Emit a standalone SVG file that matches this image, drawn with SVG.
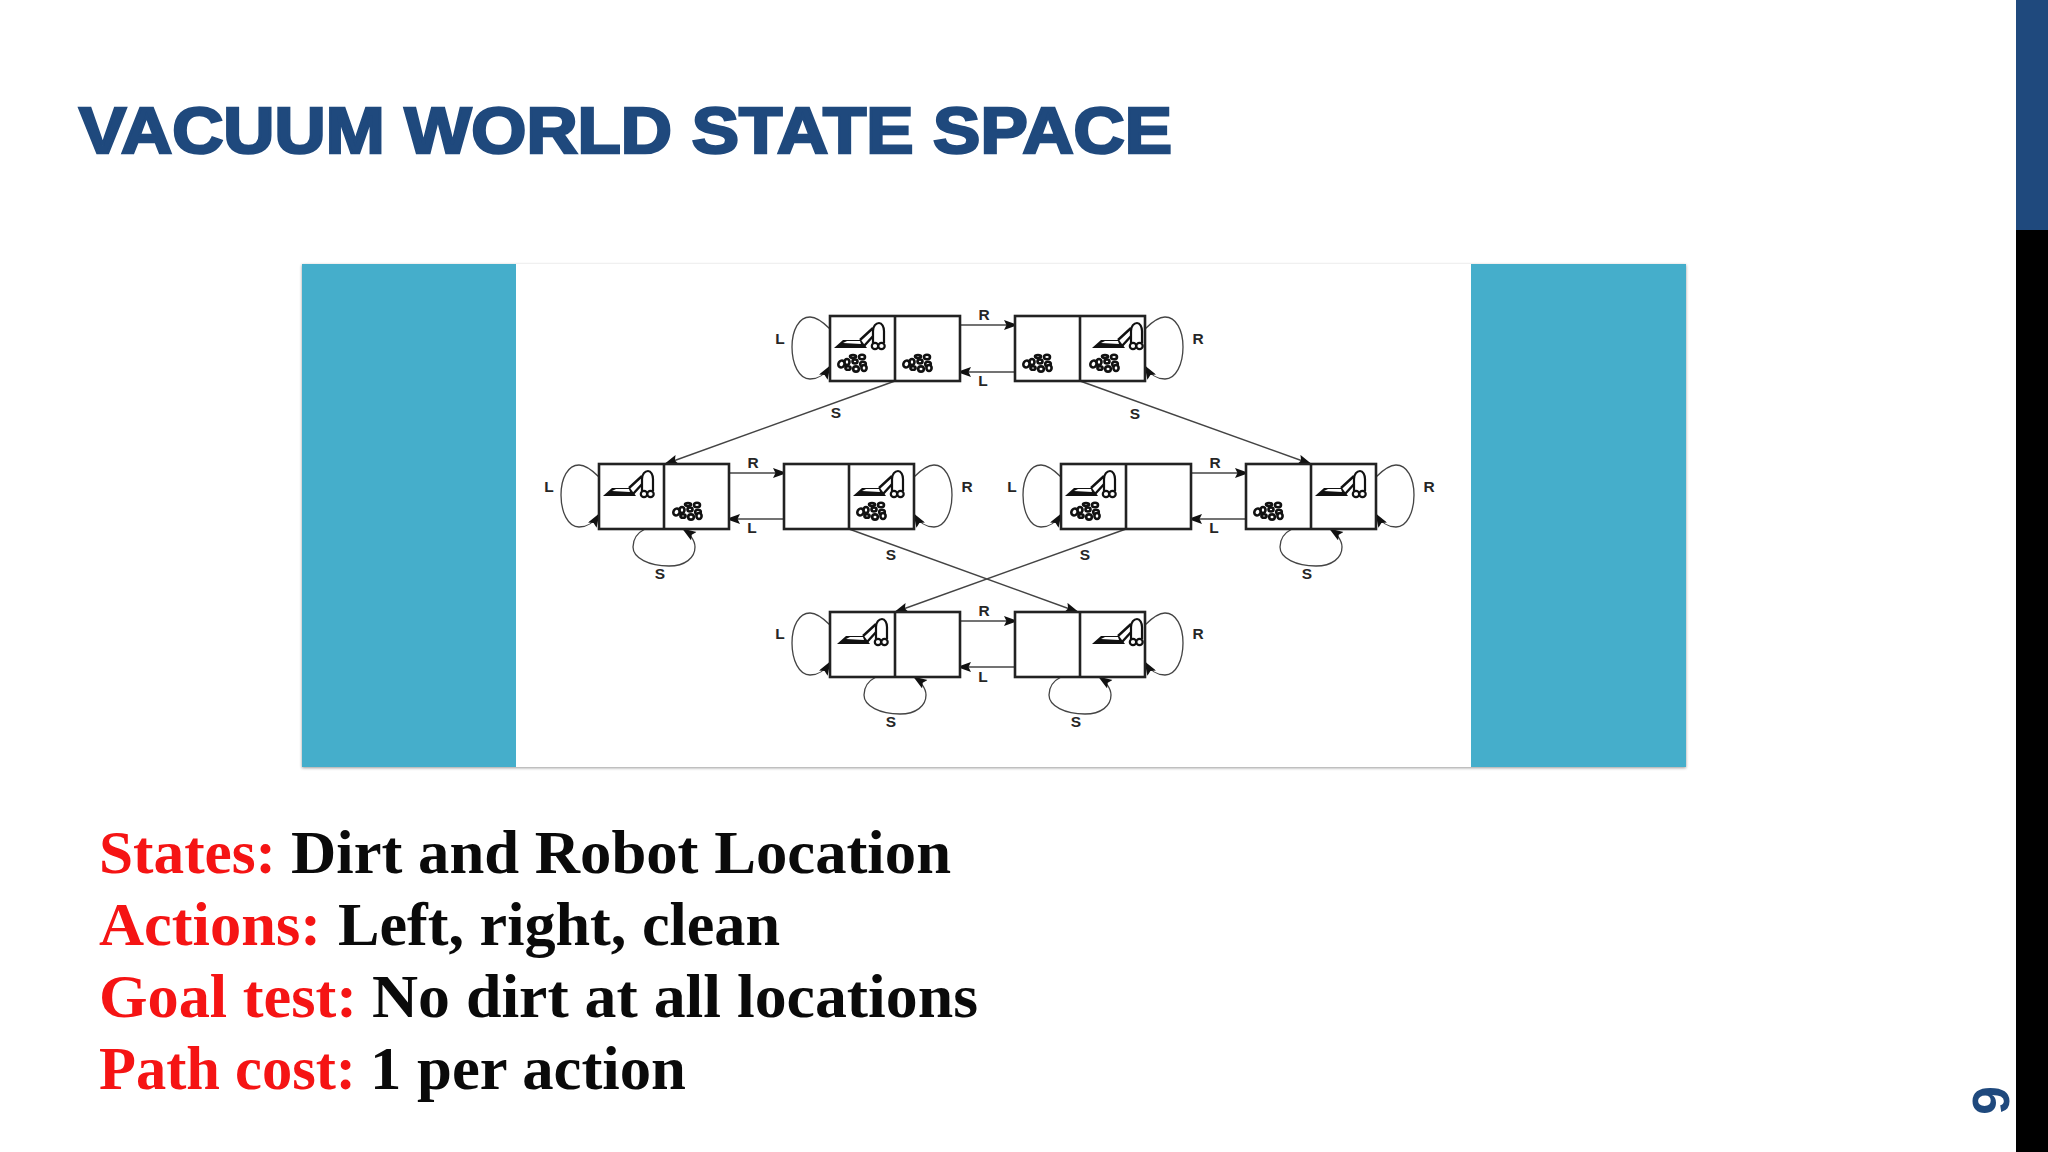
<svg xmlns="http://www.w3.org/2000/svg" width="2048" height="1152" viewBox="0 0 2048 1152">
<style>
.title{font-family:"Liberation Sans",Arial,sans-serif;font-weight:700;font-size:65px;fill:#1f497d;stroke:#1f497d;stroke-width:2.6px}
.body{font-family:"Liberation Serif","Times New Roman",serif;font-weight:700;font-size:61px}
.red{fill:#f51414}.blk{fill:#0a0a0a}
.lb{font-family:"Liberation Sans",Arial,sans-serif;font-weight:700;font-size:15.5px;fill:#262626;text-anchor:middle;dominant-baseline:central}
.box{fill:#fff;stroke:#222;stroke-width:2.6}
.edge{fill:none;stroke:#444;stroke-width:1.4}
.loop{fill:none;stroke:#444;stroke-width:1.3}
</style>
<defs>
<filter id="sh" x="-2%" y="-2%" width="104%" height="104%"><feDropShadow dx="0" dy="1" stdDeviation="1.5" flood-color="#000" flood-opacity=".4"/></filter>
<marker id="ah" markerUnits="userSpaceOnUse" markerWidth="16" markerHeight="12" refX="13" refY="5" orient="auto"><path d="M0 0L14 5L0 10L2.5 5Z" fill="#111"/></marker>
<g id="vac" fill="none" stroke="#111">
<path d="M4 32L13 24L31 24L37 32Z" fill="#111" stroke="none"/>
<path d="M13 27L17 25L30 25L31 28Z" fill="#fff" stroke="none"/>
<path d="M30 24L43 12M34 30L45 18" stroke-width="2.4"/>
<path d="M43 27V15C43 10 46 7 49 7C52 7 54 11 54 15V27" fill="#fff" stroke-width="2.2"/>
<circle cx="45" cy="30" r="3.2" fill="#fff" stroke-width="2.2"/><circle cx="51.500" cy="30" r="3.200" fill="#fff" stroke-width="2.200"/>
</g>
<g id="dirt" fill="#fff" stroke="#111" stroke-width="2.6">
<ellipse cx="3.500" cy="11" rx="3" ry="3.500" transform="rotate(35 3.500 11)"/><ellipse cx="9" cy="9" rx="2.500" ry="3"/><ellipse cx="15" cy="3.500" rx="3" ry="1.500"/><ellipse cx="17" cy="8.500" rx="2.500" ry="2"/><ellipse cx="24" cy="4" rx="3" ry="2.200"/><ellipse cx="25" cy="11" rx="2.800" ry="2.200"/><ellipse cx="10" cy="15" rx="2.600" ry="1.800"/><ellipse cx="18" cy="16" rx="2.800" ry="2.600"/><ellipse cx="26" cy="15" rx="2.600" ry="3"/>
</g>
<path id="loopL" class="loop" marker-end="url(#ah)" d="M0 13C-8 5-14 1-20 1C-31 1-38 14-38 31C-38 48-31 63-20 63C-12 63-6 60 0 50"/>
<path id="loopS" class="loop" marker-end="url(#ah)" d="M46 0C38 4 34 10 34 18C34 29 50 37 70 37C86 37 96 29 96 18C96 11 90 4 84 0"/>
</defs>
<rect width="2048" height="1152" fill="#fff"/>
<rect x="2016" y="0" width="32" height="1152" fill="#000"/>
<rect x="2016" y="0" width="32" height="230" fill="#1f497d"/>
<text x="0" y="0" transform="translate(1973 1086) rotate(90)" style="font-family:'Liberation Sans',Arial,sans-serif;font-weight:700;font-size:52px;fill:#1f497d">6</text>
<text class="title" x="79" y="153" textLength="1093" lengthAdjust="spacingAndGlyphs">VACUUM WORLD STATE SPACE</text>
<rect x="302" y="264" width="1384" height="503" fill="#44aecb" filter="url(#sh)"/>
<rect x="516" y="264" width="955" height="503" fill="#fff"/>
<g id="connectors">
<path class="edge" marker-end="url(#ah)" d="M895 381L665 464"/>
<path class="edge" marker-end="url(#ah)" d="M1080 381L1311 464"/>
<path class="edge" marker-end="url(#ah)" d="M849 529L1078 612"/>
<path class="edge" marker-end="url(#ah)" d="M1126 529L895 612"/>
<path class="edge" marker-end="url(#ah)" d="M960 325H1017"/><path class="edge" marker-end="url(#ah)" d="M1015 372H958"/>
<path class="edge" marker-end="url(#ah)" d="M729 473H786"/><path class="edge" marker-end="url(#ah)" d="M784 519H727"/>
<path class="edge" marker-end="url(#ah)" d="M1191 473H1248"/><path class="edge" marker-end="url(#ah)" d="M1246 519H1189"/>
<path class="edge" marker-end="url(#ah)" d="M960 621H1017"/><path class="edge" marker-end="url(#ah)" d="M1015 667H958"/>
<use href="#loopL" transform="translate(830 316)"/>
<use href="#loopL" transform="translate(1145 316) scale(-1 1)"/>
<use href="#loopL" transform="translate(599 464)"/>
<use href="#loopL" transform="translate(914 464) scale(-1 1)"/>
<use href="#loopL" transform="translate(1061 464)"/>
<use href="#loopL" transform="translate(1376 464) scale(-1 1)"/>
<use href="#loopL" transform="translate(830 612)"/>
<use href="#loopL" transform="translate(1145 612) scale(-1 1)"/>
<use href="#loopS" transform="translate(599 529)"/>
<use href="#loopS" transform="translate(1246 529)"/>
<use href="#loopS" transform="translate(830 677)"/>
<use href="#loopS" transform="translate(1015 677)"/>
</g>
<g id="state-1"><rect class="box" x="830" y="316" width="130" height="65"/><path class="box" d="M895 316V381"/><use href="#vac" x="830" y="316"/><use href="#dirt" x="838" y="353"/><use href="#dirt" x="903" y="353"/></g>
<g id="state-2"><rect class="box" x="1015" y="316" width="130" height="65"/><path class="box" d="M1080 316V381"/><use href="#vac" x="1088" y="316"/><use href="#dirt" x="1023" y="353"/><use href="#dirt" x="1090" y="353"/></g>
<g id="state-3"><rect class="box" x="599" y="464" width="130" height="65"/><path class="box" d="M664 464V529"/><use href="#vac" x="599" y="464"/><use href="#dirt" x="673" y="501"/></g>
<g id="state-4"><rect class="box" x="784" y="464" width="130" height="65"/><path class="box" d="M849 464V529"/><use href="#vac" x="849" y="464"/><use href="#dirt" x="857" y="501"/></g>
<g id="state-5"><rect class="box" x="1061" y="464" width="130" height="65"/><path class="box" d="M1126 464V529"/><use href="#vac" x="1061" y="464"/><use href="#dirt" x="1071" y="501"/></g>
<g id="state-6"><rect class="box" x="1246" y="464" width="130" height="65"/><path class="box" d="M1311 464V529"/><use href="#vac" x="1311" y="464"/><use href="#dirt" x="1254" y="501"/></g>
<g id="state-7"><rect class="box" x="830" y="612" width="130" height="65"/><path class="box" d="M895 612V677"/><use href="#vac" x="833" y="612"/></g>
<g id="state-8"><rect class="box" x="1015" y="612" width="130" height="65"/><path class="box" d="M1080 612V677"/><use href="#vac" x="1088" y="612"/></g>
<g id="edge-labels">
<text class="lb" x="780" y="338">L</text><text class="lb" x="1198" y="338">R</text><text class="lb" x="984" y="314">R</text><text class="lb" x="983" y="380">L</text>
<text class="lb" x="836" y="412">S</text><text class="lb" x="1135" y="413">S</text>
<text class="lb" x="549" y="486">L</text><text class="lb" x="967" y="486">R</text><text class="lb" x="753" y="462">R</text><text class="lb" x="752" y="527">L</text>
<text class="lb" x="1012" y="486">L</text><text class="lb" x="1429" y="486">R</text><text class="lb" x="1215" y="462">R</text><text class="lb" x="1214" y="527">L</text>
<text class="lb" x="660" y="573">S</text><text class="lb" x="891" y="554">S</text><text class="lb" x="1085" y="554">S</text><text class="lb" x="1307" y="573">S</text>
<text class="lb" x="780" y="633">L</text><text class="lb" x="1198" y="633">R</text><text class="lb" x="984" y="610">R</text><text class="lb" x="983" y="676">L</text>
<text class="lb" x="891" y="721">S</text><text class="lb" x="1076" y="721">S</text>
</g>
<g id="body-text">
<text class="body red" x="99" y="873" textLength="177" lengthAdjust="spacingAndGlyphs">States:</text>
<text class="body blk" x="291" y="873" textLength="660" lengthAdjust="spacingAndGlyphs">Dirt and Robot Location</text>
<text class="body red" x="99" y="945" textLength="222" lengthAdjust="spacingAndGlyphs">Actions:</text>
<text class="body blk" x="338" y="945" textLength="442" lengthAdjust="spacingAndGlyphs">Left, right, clean</text>
<text class="body red" x="99" y="1017" textLength="258" lengthAdjust="spacingAndGlyphs">Goal test:</text>
<text class="body blk" x="372" y="1017" textLength="606" lengthAdjust="spacingAndGlyphs">No dirt at all locations</text>
<text class="body red" x="99" y="1089" textLength="257" lengthAdjust="spacingAndGlyphs">Path cost:</text>
<text class="body blk" x="370" y="1089" textLength="316" lengthAdjust="spacingAndGlyphs">1 per action</text>
</g>
</svg>
